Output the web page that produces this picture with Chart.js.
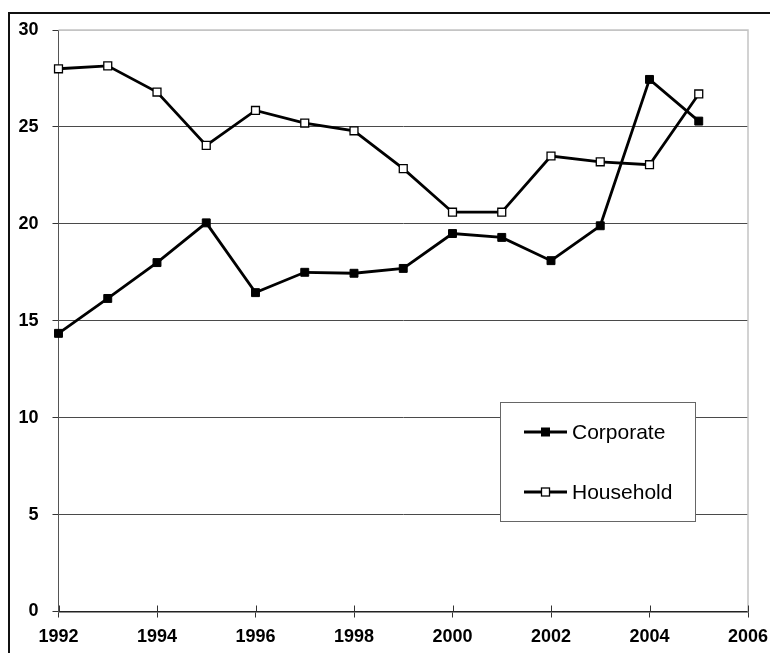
<!DOCTYPE html>
<html>
<head>
<meta charset="utf-8">
<script src="https://cdn.jsdelivr.net/npm/chart.js@4/dist/chart.umd.min.js"></script>
<style>
  html, body { margin: 0; padding: 0; background: #fff; overflow: hidden; }
  #wrap { position: relative; width: 770px; height: 653px; }
  #frame {
    position: absolute; left: 8px; top: 12px; width: 800px; height: 700px;
    border-left: 2px solid #111; border-top: 2px solid #111; pointer-events: none;
  }
</style>
</head>
<body>
<div id="wrap">
  <canvas id="c" width="770" height="653"></canvas>
  <div id="frame"></div>
</div>
<script>
// Saving by sector, 1992-2005
const years = [1992, 1993, 1994, 1995, 1996, 1997, 1998, 1999, 2000, 2001, 2002, 2003, 2004, 2005];
const corporate = [14.35, 16.15, 18.0, 20.05, 16.45, 17.5, 17.45, 17.7, 19.5, 19.3, 18.1, 19.9, 27.45, 25.3];
const household = [28.0, 28.15, 26.8, 24.05, 25.85, 25.2, 24.8, 22.85, 20.6, 20.6, 23.5, 23.2, 23.05, 26.7];
const seriesNames = ['Corporate', 'Household'];

const FONT = '"Liberation Sans", Arial, sans-serif';

// light frame on the top and right of the plot area
const plotFrame = {
  id: 'plotFrame',
  beforeDatasetsDraw(chart) {
    const { ctx, chartArea: a } = chart;
    ctx.save();
    ctx.strokeStyle = '#c4c4c4';
    ctx.lineWidth = 1.5;
    ctx.beginPath();
    ctx.moveTo(a.left, a.top);
    ctx.lineTo(a.right, a.top);
    ctx.lineTo(a.right, a.bottom);
    ctx.stroke();
    ctx.restore();
  }
};

// category-axis tick marks that cross the axis line
const crossTicks = {
  id: 'crossTicks',
  afterDraw(chart) {
    const { ctx, chartArea: a } = chart;
    const xs = chart.scales.x;
    ctx.save();
    ctx.strokeStyle = '#333';
    ctx.lineWidth = 1;
    xs.ticks.forEach(t => {
      const px = Math.round(xs.getPixelForValue(t.value)) + 0.5;
      ctx.beginPath();
      ctx.moveTo(px, a.bottom - 6);
      ctx.lineTo(px, a.bottom);
      ctx.stroke();
    });
    ctx.restore();
  }
};

// boxed legend inside the plot area
const boxLegend = {
  id: 'boxLegend',
  afterDatasetsDraw(chart, args, opts) {
    const { ctx } = chart;
    const b = opts.box;
    ctx.save();
    ctx.fillStyle = '#fff';
    ctx.fillRect(b.left, b.top, b.right - b.left, b.bottom - b.top);
    ctx.strokeStyle = '#666';
    ctx.lineWidth = 1;
    ctx.strokeRect(b.left + 0.5, b.top + 0.5, b.right - b.left, b.bottom - b.top);
    chart.data.datasets.forEach((ds, i) => {
      const y = opts.rows[i];
      ctx.strokeStyle = ds.borderColor;
      ctx.lineWidth = ds.borderWidth;
      ctx.beginPath();
      ctx.moveTo(opts.lineX0, y);
      ctx.lineTo(opts.lineX1, y);
      ctx.stroke();
      const s = 8;
      const cx = (opts.lineX0 + opts.lineX1) / 2;
      ctx.fillStyle = ds.pointBackgroundColor;
      ctx.fillRect(cx - s / 2, y - s / 2, s, s);
      ctx.strokeStyle = ds.pointBorderColor;
      ctx.lineWidth = ds.pointBorderWidth;
      ctx.strokeRect(cx - s / 2, y - s / 2, s, s);
      ctx.fillStyle = '#000';
      ctx.font = '21px ' + FONT;
      ctx.textAlign = 'left';
      ctx.textBaseline = 'middle';
      ctx.fillText(ds.label, opts.textX, y + 1);
    });
    ctx.restore();
  }
};

const toPoints = vals => vals.map((v, i) => ({ x: years[i], y: v }));

new Chart(document.getElementById('c'), {
  type: 'line',
  data: {
    datasets: [
      {
        label: seriesNames[0],
        data: toPoints(corporate),
        borderColor: '#000',
        borderWidth: 2.8,
        pointStyle: 'rect',
        pointRadius: 5.6,
        pointBackgroundColor: '#000',
        pointBorderColor: '#000',
        pointBorderWidth: 1,
        tension: 0,
        clip: false
      },
      {
        label: seriesNames[1],
        data: toPoints(household),
        borderColor: '#000',
        borderWidth: 2.8,
        pointStyle: 'rect',
        pointRadius: 5.6,
        pointBackgroundColor: '#fff',
        pointBorderColor: '#000',
        pointBorderWidth: 1.3,
        tension: 0,
        clip: false
      }
    ]
  },
  options: {
    responsive: false,
    animation: false,
    devicePixelRatio: 1,
    layout: { padding: { left: 0, top: 30, right: 22, bottom: 0 } },
    plugins: {
      legend: { display: false },
      tooltip: { enabled: false },
      boxLegend: {
        box: { left: 500, top: 402, right: 695, bottom: 521 },
        rows: [432, 492],
        lineX0: 524, lineX1: 567, textX: 572
      }
    },
    scales: {
      x: {
        type: 'linear',
        min: 1992, max: 2006,
        afterFit(scale) {
          scale.height = 41.5;
          scale.paddingLeft = 0;
          scale.paddingRight = 0;
        },
        border: { color: '#222', width: 1.5 },
        grid: { drawOnChartArea: false, tickLength: 6, tickColor: '#333' },
        ticks: {
          stepSize: 2,
          padding: 9,
          color: '#000',
          font: { family: FONT, size: 18, weight: 'bold' },
          callback: v => String(v),
          maxRotation: 0
        }
      },
      y: {
        min: 0, max: 30,
        afterFit(scale) {
          scale.width = 58.5;
          scale.paddingTop = 0;
          scale.paddingBottom = 0;
        },
        border: { color: '#555', width: 1 },
        grid: {
          color: c => (c.tick && c.tick.value === 30) ? '#c4c4c4' : '#4a4a4a',
          lineWidth: 1,
          tickLength: 6,
          tickColor: '#333'
        },
        ticks: {
          stepSize: 5,
          padding: 14,
          color: '#000',
          font: { family: FONT, size: 18, weight: 'bold' }
        }
      }
    }
  },
  plugins: [plotFrame, crossTicks, boxLegend]
});
</script>
</body>
</html>
